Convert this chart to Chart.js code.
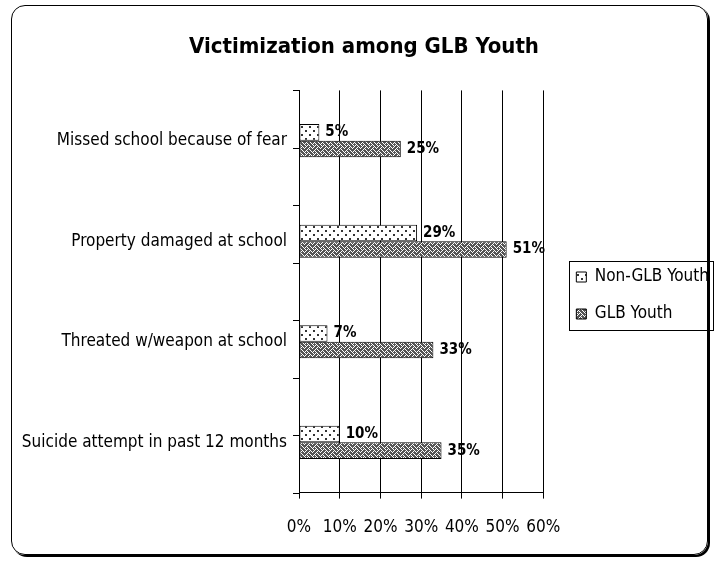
<!DOCTYPE html>
<html>
<head>
<meta charset="utf-8">
<script src="https://cdn.jsdelivr.net/npm/chart.js@4.4.1/dist/chart.umd.min.js"></script>
<style>
  body { margin: 0; background: #fff; }
  canvas { position: absolute; left: 0; top: 0; }
  #moldura {
    position: absolute; left: 11px; top: 5px; width: 695px; height: 548px;
    border: 1px solid #000; border-radius: 14px; box-shadow: 2px 2px 0 #000;
    pointer-events: none;
  }
</style>
</head>
<body>
<canvas id="grafico" width="719" height="563"></canvas>
<div id="moldura"></div>
<script>
// Dados do gráfico
var categorias = [
  "Missed school because of fear",
  "Property damaged at school",
  "Threated w/weapon at school",
  "Suicide attempt in past 12 months",
];
var naoGLB = [5, 29, 7, 10];
var glb = [25, 51, 33, 35];
var eixoMin = 0;
var eixoMax = 60;
var eixoPasso = 10;

var fonte = "'DejaVu Sans Condensed', 'DejaVu Sans', sans-serif";
var folgaLegenda = 13;

// padrão pontilhado (Non-GLB)
function padraoPontos() {
  var c = document.createElement("canvas");
  c.width = 8;
  c.height = 8;
  var g = c.getContext("2d");
  g.fillStyle = "#fff";
  g.fillRect(0, 0, 8, 8);
  g.fillStyle = "#333";
  g.fillRect(1, 2, 2, 2);
  g.fillRect(5, 6, 2, 2);
  return g.createPattern(c, "repeat");
}

// padrão trama (GLB) - bitmap 8x8 invertido
function padraoTrama() {
  var bits = [0x88, 0x54, 0x22, 0x45, 0x88, 0x14, 0x22, 0x51];
  var c = document.createElement("canvas");
  c.width = 8;
  c.height = 8;
  var g = c.getContext("2d");
  g.fillStyle = "#fff";
  g.fillRect(0, 0, 8, 8);
  g.fillStyle = "#555";
  for (var y = 0; y < 8; y++) {
    for (var x = 0; x < 8; x++) {
      if (!(bits[y] & (0x80 >> x))) g.fillRect(x, y, 1, 1);
    }
  }
  return g.createPattern(c, "repeat");
}

// rótulos de valor ao lado das barras
var rotulos = {
  id: "rotulos",
  afterDatasetsDraw: function (chart) {
    var ctx = chart.ctx;
    ctx.save();
    ctx.fillStyle = "#000";
    ctx.font = "bold 15px " + fonte;
    ctx.textAlign = "left";
    ctx.textBaseline = "middle";
    chart.data.datasets.forEach(function (ds, i) {
      chart.getDatasetMeta(i).data.forEach(function (barra, j) {
        ctx.fillText(ds.data[j] + "%", barra.x + 6, barra.y);
      });
    });
    ctx.restore();
  },
};

// marcas do eixo vertical
var marcasY = {
  id: "marcasY",
  afterDraw: function (chart) {
    var a = chart.chartArea;
    var ctx = chart.ctx;
    ctx.save();
    ctx.strokeStyle = "#000";
    ctx.lineWidth = 1;
    for (var k = 0; k <= 7; k++) {
      var y = Math.round(a.top + (k * (a.bottom - a.top)) / 7) + 0.5;
      ctx.beginPath();
      ctx.moveTo(a.left - 6, y);
      ctx.lineTo(a.left, y);
      ctx.stroke();
    }
    ctx.restore();
  },
};

// empurra a legenda para a direita, deixando um vão depois do gráfico
var moverLegenda = {
  id: "moverLegenda",
  afterLayout: function (chart) {
    chart.legend.left += folgaLegenda;
    chart.legend.right += folgaLegenda;
  },
};

// borda da legenda
var bordaLegenda = {
  id: "bordaLegenda",
  afterDraw: function (chart) {
    var hb = chart.legend.legendHitBoxes;
    if (!hb || !hb.length) return;
    var esq = Math.min.apply(null, hb.map(function (h) { return h.left; })) - 7;
    var dir = Math.max.apply(null, hb.map(function (h) { return h.left + h.width; })) + 4;
    var topo = hb[0].top - 8;
    var fim = hb[hb.length - 1].top + hb[hb.length - 1].height + 7;
    var ctx = chart.ctx;
    ctx.save();
    ctx.strokeStyle = "#000";
    ctx.lineWidth = 1;
    ctx.strokeRect(Math.round(esq) + 0.5, Math.round(topo) + 0.5, Math.round(dir - esq), Math.round(fim - topo));
    ctx.restore();
  },
};

var ctx = document.getElementById("grafico").getContext("2d");

var grafico = new Chart(ctx, {
  type: "bar",
  data: {
    labels: categorias,
    datasets: [
      {
        label: "Non-GLB Youth",
        data: naoGLB,
        backgroundColor: padraoPontos(),
        borderColor: "#000",
        borderWidth: 1,
        borderSkipped: false,
      },
      {
        label: "GLB Youth",
        data: glb,
        backgroundColor: padraoTrama(),
        borderColor: "#000",
        borderWidth: 1,
        borderSkipped: false,
      },
    ],
  },
  options: {
    indexAxis: "y",
    responsive: false,
    animation: false,
    devicePixelRatio: 1,
    layout: { padding: { left: 12, right: 3, top: 10, bottom: 6 } },
    datasets: { bar: { categoryPercentage: 0.33, barPercentage: 1 } },
    plugins: {
      title: {
        display: true,
        text: "Victimization among GLB Youth",
        color: "#000",
        font: { family: fonte, size: 22, weight: "bold" },
        padding: { top: 24, bottom: 30 },
      },
      legend: {
        position: "right",
        title: { display: true, text: "", font: { size: 10 }, padding: 6 },
        labels: {
          color: "#000",
          font: { family: fonte, size: 17 },
          boxWidth: 10,
          boxHeight: 10,
          padding: 20,
        },
      },
      tooltip: { enabled: false },
    },
    scales: {
      x: {
        min: eixoMin,
        max: eixoMax,
        ticks: {
          stepSize: eixoPasso,
          callback: function (v) { return v + "%"; },
          color: "#000",
          font: { family: fonte, size: 17 },
          padding: 19,
        },
        grid: { color: "#000", lineWidth: 1, tickLength: 6 },
        border: { color: "#000", width: 1 },
        // espaço entre a área do gráfico e a legenda
        afterFit: function (s) { s.paddingRight = s.chart.legend.width + folgaLegenda; },
      },
      y: {
        ticks: { color: "#000", font: { family: fonte, size: 17 }, padding: 12 },
        grid: { display: false, drawTicks: false },
        border: { color: "#000", width: 1 },
        afterFit: function (s) { s.width = 287; },
      },
    },
  },
  plugins: [rotulos, marcasY, moverLegenda, bordaLegenda],
});
</script>
</body>
</html>
